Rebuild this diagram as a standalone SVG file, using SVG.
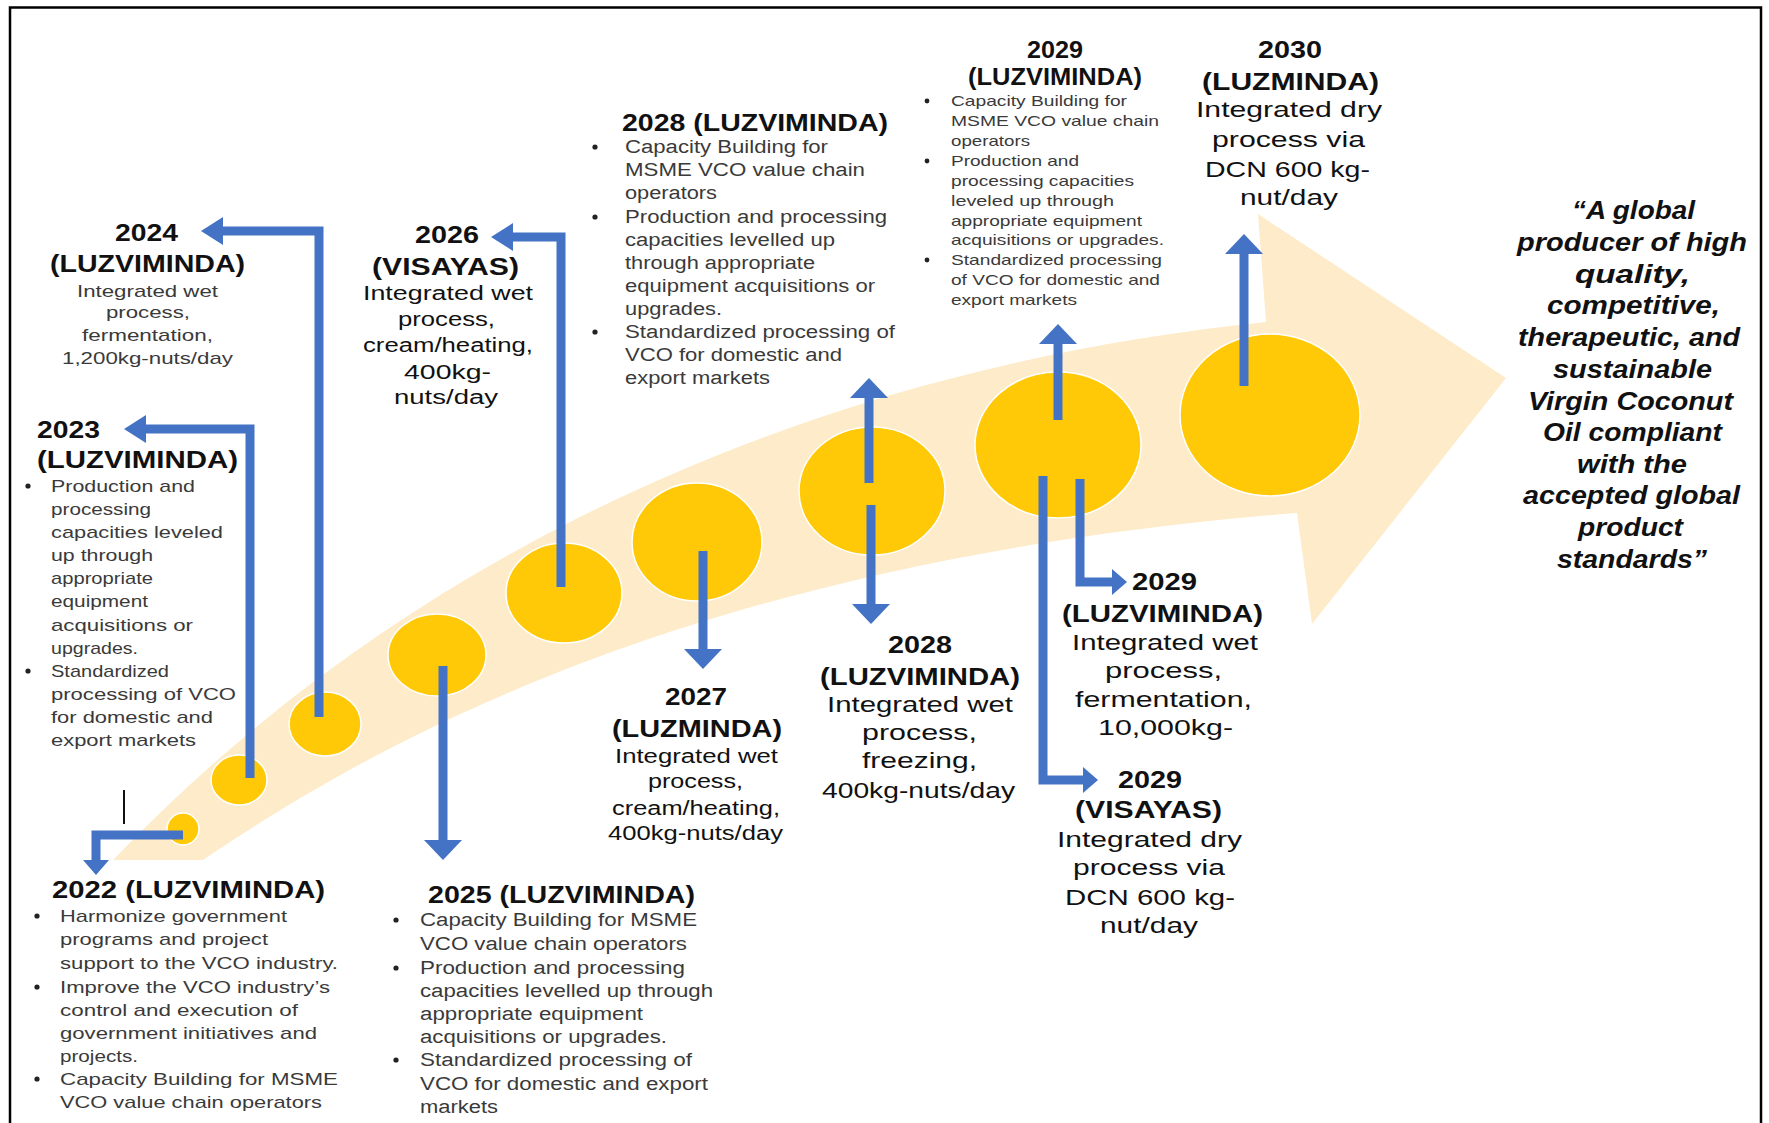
<svg xmlns="http://www.w3.org/2000/svg" width="1769" height="1123" viewBox="0 0 1769 1123">
<defs>
<style>
text{font-family:"Liberation Sans",Arial,sans-serif}
.h{font-weight:bold;font-size:24px;fill:#111}
.s{font-size:17px;fill:#3a3a3a}
.s2{font-size:18px;fill:#3a3a3a}
.s3{font-size:15px;fill:#3a3a3a}
.m{font-size:20px;fill:#111}
.b{font-size:22px;fill:#111}
.q{font-weight:bold;font-style:italic;font-size:25px;fill:#111}
.dot{fill:#222}
.ms{fill:#FFC907;stroke:#fff;stroke-width:1.5}
.c{fill:none;stroke:#4472C4;stroke-width:9;stroke-linejoin:miter}
.hd{fill:#4472C4}
</style>
<marker id="hv" markerUnits="userSpaceOnUse" markerWidth="20" markerHeight="38" viewBox="0 0 20 38" refX="0" refY="19" orient="auto"><path class="hd" d="M0,0 L20,19 L0,38 Z"/></marker>
<marker id="hh" markerUnits="userSpaceOnUse" markerWidth="22" markerHeight="28" viewBox="0 0 22 28" refX="0" refY="14" orient="auto"><path class="hd" d="M0,0 L22,14 L0,28 Z"/></marker>
<marker id="hs" markerUnits="userSpaceOnUse" markerWidth="15" markerHeight="26" viewBox="0 0 15 26" refX="0" refY="13" orient="auto"><path class="hd" d="M0,0 L15,13 L0,26 Z"/></marker>
</defs>
<rect x="0" y="0" width="1769" height="1123" fill="#fff"/>
<rect x="10" y="7.5" width="1751" height="1140" fill="none" stroke="#000" stroke-width="2.5"/>

<g id="timeline-arrow">
<path fill="#FEEBC9" d="M113,860 L203,860 C380,740 700,560 1297,513 L1312,624 L1506,378 L1258,214 L1266,322 C800,370 400,560 113,860 Z"/>
</g>

<g id="milestones">
<ellipse class="ms" cx="183" cy="829" rx="16" ry="16"/>
<ellipse class="ms" cx="239" cy="780" rx="28" ry="25"/>
<ellipse class="ms" cx="325" cy="724" rx="36" ry="32"/>
<ellipse class="ms" cx="437" cy="655" rx="49" ry="41"/>
<ellipse class="ms" cx="564" cy="593" rx="58" ry="50"/>
<ellipse class="ms" cx="697" cy="542" rx="65" ry="59"/>
<ellipse class="ms" cx="872" cy="491" rx="73" ry="64"/>
<ellipse class="ms" cx="1058" cy="445" rx="83" ry="73"/>
<ellipse class="ms" cx="1270" cy="415" rx="90" ry="81"/>
</g>

<g id="connectors">
<path class="c" d="M183,835 H96 V860" marker-end="url(#hs)"/>
<path class="c" d="M250,778 V429 H146" marker-end="url(#hh)"/>
<path class="c" d="M319,717 V231 H223" marker-end="url(#hh)"/>
<path class="c" d="M561,587 V237 H513" marker-end="url(#hh)"/>
<path class="c" d="M443,666 V840" marker-end="url(#hv)"/>
<path class="c" d="M703,551 V649" marker-end="url(#hv)"/>
<path class="c" d="M871,505 V604" marker-end="url(#hv)"/>
<path class="c" d="M869,483 V398" marker-end="url(#hv)"/>
<path class="c" d="M1058,420 V344" marker-end="url(#hv)"/>
<path class="c" d="M1080,479 V582 H1112" marker-end="url(#hs)"/>
<path class="c" d="M1043,476 V780 H1083" marker-end="url(#hs)"/>
<path class="c" d="M1244,386 V254" marker-end="url(#hv)"/>
<line x1="124" y1="790" x2="124" y2="824" stroke="#111" stroke-width="2"/>
</g>

<g id="node-2022">
<text class="h" x="52" y="898" textLength="273" lengthAdjust="spacingAndGlyphs">2022 (LUZVIMINDA)</text>
<circle class="dot" cx="37" cy="916" r="2.6"/><circle class="dot" cx="37" cy="987" r="2.6"/><circle class="dot" cx="37" cy="1079" r="2.6"/>
<text class="s" x="60" y="922" textLength="227" lengthAdjust="spacingAndGlyphs">Harmonize government</text>
<text class="s" x="60" y="945" textLength="208" lengthAdjust="spacingAndGlyphs">programs and project</text>
<text class="s" x="60" y="969" textLength="278" lengthAdjust="spacingAndGlyphs">support to the VCO industry.</text>
<text class="s" x="60" y="993" textLength="270" lengthAdjust="spacingAndGlyphs">Improve the VCO industry’s</text>
<text class="s" x="60" y="1016" textLength="238" lengthAdjust="spacingAndGlyphs">control and execution of</text>
<text class="s" x="60" y="1039" textLength="257" lengthAdjust="spacingAndGlyphs">government initiatives and</text>
<text class="s" x="60" y="1062" textLength="78" lengthAdjust="spacingAndGlyphs">projects.</text>
<text class="s" x="60" y="1085" textLength="278" lengthAdjust="spacingAndGlyphs">Capacity Building for MSME</text>
<text class="s" x="60" y="1108" textLength="262" lengthAdjust="spacingAndGlyphs">VCO value chain operators</text>
</g>

<g id="node-2023">
<text class="h" x="37" y="438" textLength="63" lengthAdjust="spacingAndGlyphs">2023</text>
<text class="h" x="37" y="468" textLength="201" lengthAdjust="spacingAndGlyphs">(LUZVIMINDA)</text>
<circle class="dot" cx="28" cy="486" r="2.6"/><circle class="dot" cx="28" cy="671" r="2.6"/>
<text class="s" x="51" y="492" textLength="144" lengthAdjust="spacingAndGlyphs">Production and</text>
<text class="s" x="51" y="515" textLength="100" lengthAdjust="spacingAndGlyphs">processing</text>
<text class="s" x="51" y="538" textLength="172" lengthAdjust="spacingAndGlyphs">capacities leveled</text>
<text class="s" x="51" y="561" textLength="102" lengthAdjust="spacingAndGlyphs">up through</text>
<text class="s" x="51" y="584" textLength="102" lengthAdjust="spacingAndGlyphs">appropriate</text>
<text class="s" x="51" y="607" textLength="97" lengthAdjust="spacingAndGlyphs">equipment</text>
<text class="s" x="51" y="631" textLength="142" lengthAdjust="spacingAndGlyphs">acquisitions or</text>
<text class="s" x="51" y="654" textLength="87" lengthAdjust="spacingAndGlyphs">upgrades.</text>
<text class="s" x="51" y="677" textLength="118" lengthAdjust="spacingAndGlyphs">Standardized</text>
<text class="s" x="51" y="700" textLength="185" lengthAdjust="spacingAndGlyphs">processing of VCO</text>
<text class="s" x="51" y="723" textLength="162" lengthAdjust="spacingAndGlyphs">for domestic and</text>
<text class="s" x="51" y="746" textLength="145" lengthAdjust="spacingAndGlyphs">export markets</text>
</g>

<g id="node-2024">
<text class="h" x="115" y="241" textLength="63" lengthAdjust="spacingAndGlyphs">2024</text>
<text class="h" x="50" y="272" textLength="195" lengthAdjust="spacingAndGlyphs">(LUZVIMINDA)</text>
<text class="s" x="77" y="297" textLength="141" lengthAdjust="spacingAndGlyphs">Integrated wet</text>
<text class="s" x="106" y="318" textLength="84" lengthAdjust="spacingAndGlyphs">process,</text>
<text class="s" x="82" y="341" textLength="131" lengthAdjust="spacingAndGlyphs">fermentation,</text>
<text class="s" x="62" y="364" textLength="171" lengthAdjust="spacingAndGlyphs">1,200kg-nuts/day</text>
</g>

<g id="node-2025">
<text class="h" x="428" y="903" textLength="267" lengthAdjust="spacingAndGlyphs">2025 (LUZVIMINDA)</text>
<circle class="dot" cx="396" cy="920" r="2.6"/><circle class="dot" cx="396" cy="968" r="2.6"/><circle class="dot" cx="396" cy="1060" r="2.6"/>
<text class="s2" x="420" y="926" textLength="277" lengthAdjust="spacingAndGlyphs">Capacity Building for MSME</text>
<text class="s2" x="420" y="950" textLength="267" lengthAdjust="spacingAndGlyphs">VCO value chain operators</text>
<text class="s2" x="420" y="974" textLength="265" lengthAdjust="spacingAndGlyphs">Production and processing</text>
<text class="s2" x="420" y="997" textLength="293" lengthAdjust="spacingAndGlyphs">capacities levelled up through</text>
<text class="s2" x="420" y="1020" textLength="223" lengthAdjust="spacingAndGlyphs">appropriate equipment</text>
<text class="s2" x="420" y="1043" textLength="247" lengthAdjust="spacingAndGlyphs">acquisitions or upgrades.</text>
<text class="s2" x="420" y="1066" textLength="272" lengthAdjust="spacingAndGlyphs">Standardized processing of</text>
<text class="s2" x="420" y="1090" textLength="288" lengthAdjust="spacingAndGlyphs">VCO for domestic and export</text>
<text class="s2" x="420" y="1113" textLength="78" lengthAdjust="spacingAndGlyphs">markets</text>
</g>

<g id="node-2026">
<text class="h" x="415" y="243" textLength="64" lengthAdjust="spacingAndGlyphs">2026</text>
<text class="h" x="372" y="275" textLength="147" lengthAdjust="spacingAndGlyphs">(VISAYAS)</text>
<text class="m" x="363" y="300" textLength="170" lengthAdjust="spacingAndGlyphs">Integrated wet</text>
<text class="m" x="398" y="326" textLength="97" lengthAdjust="spacingAndGlyphs">process,</text>
<text class="m" x="363" y="352" textLength="170" lengthAdjust="spacingAndGlyphs">cream/heating,</text>
<text class="m" x="404" y="379" textLength="87" lengthAdjust="spacingAndGlyphs">400kg-</text>
<text class="m" x="394" y="404" textLength="104" lengthAdjust="spacingAndGlyphs">nuts/day</text>
</g>

<g id="node-2027">
<text class="h" x="665" y="705" textLength="62" lengthAdjust="spacingAndGlyphs">2027</text>
<text class="h" x="612" y="737" textLength="170" lengthAdjust="spacingAndGlyphs">(LUZMINDA)</text>
<text class="m" x="615" y="763" textLength="163" lengthAdjust="spacingAndGlyphs">Integrated wet</text>
<text class="m" x="648" y="788" textLength="95" lengthAdjust="spacingAndGlyphs">process,</text>
<text class="m" x="612" y="815" textLength="168" lengthAdjust="spacingAndGlyphs">cream/heating,</text>
<text class="m" x="608" y="840" textLength="175" lengthAdjust="spacingAndGlyphs">400kg-nuts/day</text>
</g>

<g id="node-2028-top">
<text class="h" x="622" y="131" textLength="266" lengthAdjust="spacingAndGlyphs">2028 (LUZVIMINDA)</text>
<circle class="dot" cx="595" cy="147" r="2.6"/><circle class="dot" cx="595" cy="217" r="2.6"/><circle class="dot" cx="595" cy="332" r="2.6"/>
<text class="s2" x="625" y="153" textLength="203" lengthAdjust="spacingAndGlyphs">Capacity Building for</text>
<text class="s2" x="625" y="176" textLength="240" lengthAdjust="spacingAndGlyphs">MSME VCO value chain</text>
<text class="s2" x="625" y="199" textLength="92" lengthAdjust="spacingAndGlyphs">operators</text>
<text class="s2" x="625" y="223" textLength="262" lengthAdjust="spacingAndGlyphs">Production and processing</text>
<text class="s2" x="625" y="246" textLength="210" lengthAdjust="spacingAndGlyphs">capacities levelled up</text>
<text class="s2" x="625" y="269" textLength="190" lengthAdjust="spacingAndGlyphs">through appropriate</text>
<text class="s2" x="625" y="292" textLength="250" lengthAdjust="spacingAndGlyphs">equipment acquisitions or</text>
<text class="s2" x="625" y="315" textLength="97" lengthAdjust="spacingAndGlyphs">upgrades.</text>
<text class="s2" x="625" y="338" textLength="270" lengthAdjust="spacingAndGlyphs">Standardized processing of</text>
<text class="s2" x="625" y="361" textLength="217" lengthAdjust="spacingAndGlyphs">VCO for domestic and</text>
<text class="s2" x="625" y="384" textLength="145" lengthAdjust="spacingAndGlyphs">export markets</text>
</g>

<g id="node-2028-bottom">
<text class="h" x="888" y="653" textLength="64" lengthAdjust="spacingAndGlyphs">2028</text>
<text class="h" x="820" y="685" textLength="200" lengthAdjust="spacingAndGlyphs">(LUZVIMINDA)</text>
<text class="b" x="827" y="712" textLength="186" lengthAdjust="spacingAndGlyphs">Integrated wet</text>
<text class="b" x="862" y="740" textLength="115" lengthAdjust="spacingAndGlyphs">process,</text>
<text class="b" x="862" y="768" textLength="115" lengthAdjust="spacingAndGlyphs">freezing,</text>
<text class="b" x="822" y="798" textLength="193" lengthAdjust="spacingAndGlyphs">400kg-nuts/day</text>
</g>

<g id="node-2029-top">
<text class="h" x="1027" y="58" textLength="56" lengthAdjust="spacingAndGlyphs">2029</text>
<text class="h" x="968" y="85" textLength="174" lengthAdjust="spacingAndGlyphs">(LUZVIMINDA)</text>
<circle class="dot" cx="927" cy="101" r="2.4"/><circle class="dot" cx="927" cy="161" r="2.4"/><circle class="dot" cx="927" cy="260" r="2.4"/>
<text class="s3" x="951" y="106" textLength="176" lengthAdjust="spacingAndGlyphs">Capacity Building for</text>
<text class="s3" x="951" y="126" textLength="208" lengthAdjust="spacingAndGlyphs">MSME VCO value chain</text>
<text class="s3" x="951" y="146" textLength="79" lengthAdjust="spacingAndGlyphs">operators</text>
<text class="s3" x="951" y="166" textLength="128" lengthAdjust="spacingAndGlyphs">Production and</text>
<text class="s3" x="951" y="186" textLength="183" lengthAdjust="spacingAndGlyphs">processing capacities</text>
<text class="s3" x="951" y="206" textLength="163" lengthAdjust="spacingAndGlyphs">leveled up through</text>
<text class="s3" x="951" y="226" textLength="191" lengthAdjust="spacingAndGlyphs">appropriate equipment</text>
<text class="s3" x="951" y="245" textLength="213" lengthAdjust="spacingAndGlyphs">acquisitions or upgrades.</text>
<text class="s3" x="951" y="265" textLength="211" lengthAdjust="spacingAndGlyphs">Standardized processing</text>
<text class="s3" x="951" y="285" textLength="209" lengthAdjust="spacingAndGlyphs">of VCO for domestic and</text>
<text class="s3" x="951" y="305" textLength="126" lengthAdjust="spacingAndGlyphs">export markets</text>
</g>

<g id="node-2029-luzviminda">
<text class="h" x="1132" y="590" textLength="65" lengthAdjust="spacingAndGlyphs">2029</text>
<text class="h" x="1062" y="622" textLength="201" lengthAdjust="spacingAndGlyphs">(LUZVIMINDA)</text>
<text class="b" x="1072" y="650" textLength="186" lengthAdjust="spacingAndGlyphs">Integrated wet</text>
<text class="b" x="1105" y="678" textLength="117" lengthAdjust="spacingAndGlyphs">process,</text>
<text class="b" x="1075" y="707" textLength="177" lengthAdjust="spacingAndGlyphs">fermentation,</text>
<text class="b" x="1098" y="735" textLength="135" lengthAdjust="spacingAndGlyphs">10,000kg-</text>
</g>

<g id="node-2029-visayas">
<text class="h" x="1118" y="788" textLength="64" lengthAdjust="spacingAndGlyphs">2029</text>
<text class="h" x="1075" y="818" textLength="147" lengthAdjust="spacingAndGlyphs">(VISAYAS)</text>
<text class="b" x="1057" y="847" textLength="185" lengthAdjust="spacingAndGlyphs">Integrated dry</text>
<text class="b" x="1073" y="875" textLength="152" lengthAdjust="spacingAndGlyphs">process via</text>
<text class="b" x="1065" y="905" textLength="170" lengthAdjust="spacingAndGlyphs">DCN 600 kg-</text>
<text class="b" x="1100" y="933" textLength="98" lengthAdjust="spacingAndGlyphs">nut/day</text>
</g>

<g id="node-2030">
<text class="h" x="1258" y="58" textLength="64" lengthAdjust="spacingAndGlyphs">2030</text>
<text class="h" x="1202" y="90" textLength="177" lengthAdjust="spacingAndGlyphs">(LUZMINDA)</text>
<text class="b" x="1196" y="117" textLength="186" lengthAdjust="spacingAndGlyphs">Integrated dry</text>
<text class="b" x="1212" y="147" textLength="153" lengthAdjust="spacingAndGlyphs">process via</text>
<text class="b" x="1205" y="177" textLength="165" lengthAdjust="spacingAndGlyphs">DCN 600 kg-</text>
<text class="b" x="1240" y="205" textLength="98" lengthAdjust="spacingAndGlyphs">nut/day</text>
</g>

<g id="vision">
<text class="q" x="1572" y="219" textLength="123" lengthAdjust="spacingAndGlyphs">“A global</text>
<text class="q" x="1517" y="251" textLength="230" lengthAdjust="spacingAndGlyphs">producer of high</text>
<text class="q" x="1575" y="283" textLength="115" lengthAdjust="spacingAndGlyphs">quality,</text>
<text class="q" x="1547" y="314" textLength="173" lengthAdjust="spacingAndGlyphs">competitive,</text>
<text class="q" x="1518" y="346" textLength="222" lengthAdjust="spacingAndGlyphs">therapeutic, and</text>
<text class="q" x="1553" y="378" textLength="159" lengthAdjust="spacingAndGlyphs">sustainable</text>
<text class="q" x="1528" y="410" textLength="205" lengthAdjust="spacingAndGlyphs">Virgin Coconut</text>
<text class="q" x="1543" y="441" textLength="179" lengthAdjust="spacingAndGlyphs">Oil compliant</text>
<text class="q" x="1577" y="473" textLength="110" lengthAdjust="spacingAndGlyphs">with the</text>
<text class="q" x="1523" y="504" textLength="217" lengthAdjust="spacingAndGlyphs">accepted global</text>
<text class="q" x="1578" y="536" textLength="105" lengthAdjust="spacingAndGlyphs">product</text>
<text class="q" x="1557" y="568" textLength="150" lengthAdjust="spacingAndGlyphs">standards”</text>
</g>
</svg>
